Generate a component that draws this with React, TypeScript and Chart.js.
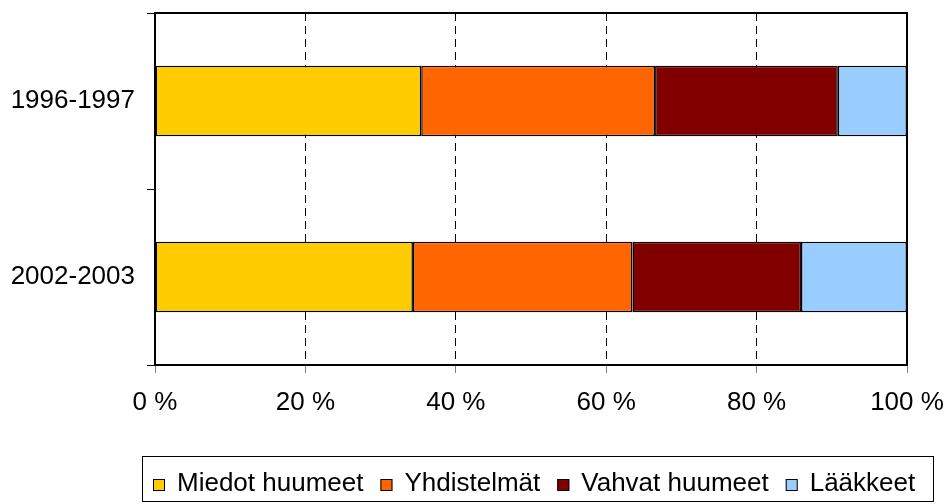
import React, { useEffect, useRef } from "react";
import { Chart, registerables } from "chart.js";

Chart.register(...registerables);

const categories = ["1996-1997", "2002-2003"];
const seriesNames = ["Miedot huumeet", "Yhdistelmät", "Vahvat huumeet", "Lääkkeet"];
const miedot = [35.4, 34.3];
const yhdistelmat = [31.1, 29.2];
const vahvat = [24.3, 22.4];
const laakkeet = [9.2, 14.1];
const colors = ["#FFCC00", "#FF6600", "#800000", "#99CCFF"];
const xTicks = [0, 20, 40, 60, 80, 100];

const FONT = "'Liberation Sans', Arial, sans-serif";

const framePlugin = {
  id: "frame",
  afterDraw(chart: any) {
    const ctx = chart.ctx;
    const a = chart.chartArea;
    ctx.save();
    ctx.strokeStyle = "#000";
    ctx.lineWidth = 2;
    ctx.strokeRect(a.left, a.top, a.right - a.left, a.bottom - a.top);

    // legend
    const bx = 142, by = 456, bw = 791, bh = 45;
    ctx.lineWidth = 1;
    ctx.strokeStyle = "#000";
    ctx.strokeRect(bx + 0.5, by + 0.5, bw, bh);
    ctx.font = "26px " + FONT;
    ctx.textBaseline = "alphabetic";
    const ds = chart.data.datasets;
    const marker = 12;
    const baseline = 491;
    let x = bx + 11;
    ds.forEach((d: any) => {
      ctx.fillStyle = d.backgroundColor;
      ctx.fillRect(x, baseline - marker, marker, marker);
      ctx.strokeStyle = "#000";
      ctx.strokeRect(x + 0.5, baseline - marker + 0.5, marker - 1, marker - 1);
      ctx.fillStyle = "#000";
      ctx.fillText(d.label, x + 24, baseline);
      x += 24 + ctx.measureText(d.label).width + 17;
    });
    ctx.restore();
  },
};

function zeroPad(scale: any) {
  scale.paddingTop = 0;
  scale.paddingBottom = 0;
  scale.paddingLeft = 0;
  scale.paddingRight = 0;
}

export default function App() {
  const ref = useRef<HTMLCanvasElement>(null);
  useEffect(() => {
    const series = [miedot, yhdistelmat, vahvat, laakkeet];
    const chart = new Chart(ref.current!, {
      type: "bar",
      data: {
        labels: categories,
        datasets: series.map((s, i) => ({
          label: seriesNames[i],
          data: s,
          backgroundColor: colors[i],
          borderColor: "#000",
          borderWidth: 1.5,
          borderSkipped: false,
          categoryPercentage: 1,
          barPercentage: 0.4,
        })),
      },
      options: {
        indexAxis: "y",
        animation: false,
        responsive: false,
        devicePixelRatio: 1,
        layout: { padding: { top: 13, right: 40, left: 0, bottom: 0 } },
        plugins: { legend: { display: false }, tooltip: { enabled: false } },
        scales: {
          x: {
            stacked: true,
            min: 0,
            max: 100,
            afterFit(scale: any) {
              scale.height = 139;
              zeroPad(scale);
            },
            afterBuildTicks(scale: any) {
              scale.ticks = xTicks.map((v) => ({ value: v }));
            },
            ticks: {
              callback: (v: any) => v + " %",
              color: "#000",
              font: { family: FONT, size: 26 },
              padding: 14,
              maxRotation: 0,
            },
            grid: {
              color: "#000",
              borderDash: [8, 5],
              tickLength: 8,
              tickColor: "#808080",
              tickBorderDash: [],
              lineWidth: 1,
            },
            border: { display: false, dash: [8, 5] },
          },
          y: {
            stacked: true,
            afterFit(scale: any) {
              scale.width = 155;
              zeroPad(scale);
            },
            ticks: {
              color: "#000",
              font: { family: FONT, size: 26 },
              padding: 12,
            },
            grid: {
              offset: true,
              drawOnChartArea: false,
              tickLength: 8,
              color: "#000",
            },
            border: { display: false },
          },
        },
      } as any,
      plugins: [framePlugin],
    });
    return () => chart.destroy();
  }, []);
  return (
    <div style={{ position: "fixed", left: 0, top: 0, width: 947, height: 504, background: "#fff" }}>
      <canvas ref={ref} width={947} height={504} style={{ width: 947, height: 504 }} />
    </div>
  );
}
